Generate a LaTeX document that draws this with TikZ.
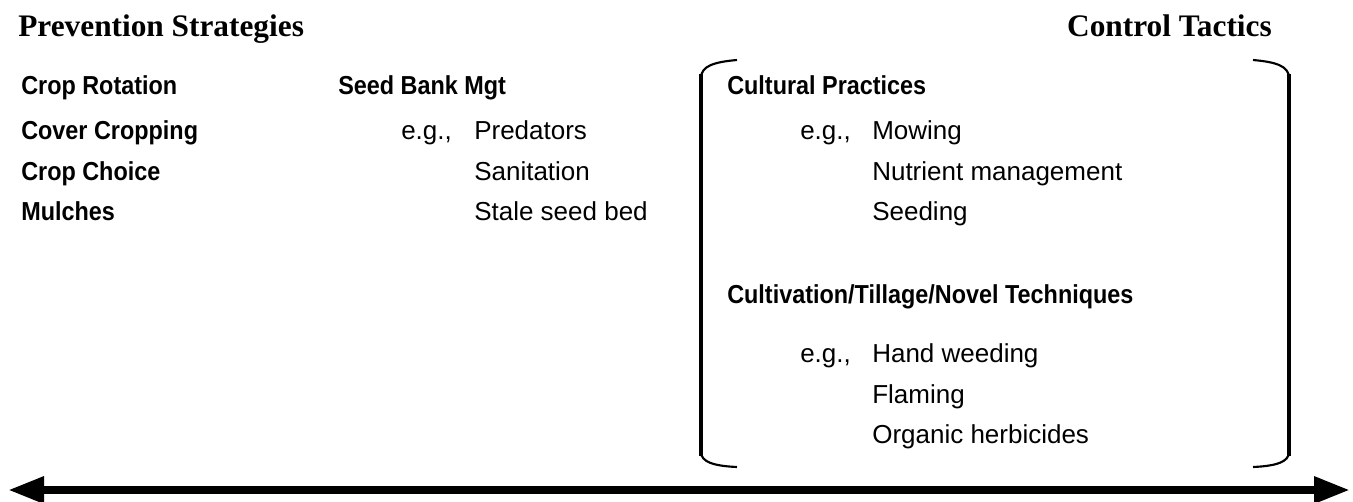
\documentclass[tikz,border=0pt]{standalone}
\usepackage{fontspec}
\setmainfont{Liberation Serif}
\newfontfamily\condb[FakeStretch=0.9]{Liberation Sans}
\newfontfamily\cond{Liberation Sans}
\usetikzlibrary{arrows.meta}
\begin{document}
\begin{tikzpicture}[x=0.75pt,y=-0.75pt,
  head/.style={anchor=base west,inner sep=0pt,font=\fontsize{23.5}{26}\selectfont\bfseries},
  bitem/.style={anchor=base west,inner sep=0pt,font=\condb\fontsize{19.5}{21}\selectfont\bfseries},
  item/.style={anchor=base west,inner sep=0pt,font=\cond\fontsize{19.5}{21}\selectfont},
  brk/.style={line width=3.6pt},
  brkc/.style={line width=1.6pt},
  axis/.style={line width=6pt,{Triangle[length=27pt,width=19pt]}-{Triangle[length=27pt,width=19pt]}}]
\useasboundingbox (0,0) rectangle (1353,501);
% headings
\node[head] (prev) at (18,36) {Prevention Strategies};
\node[head,anchor=base east] (ctrl) at (1272,36) {Control Tactics};
% left column
\node[bitem] (cr) at (21,94) {Crop Rotation};
\node[bitem] (cc) at (21,139) {Cover Cropping};
\node[bitem] (ch) at (21,180) {Crop Choice};
\node[bitem] (mu) at (21,220) {Mulches};
% seed bank
\node[bitem] (sb) at (338,94) {Seed Bank Mgt};
\node[item] (eg1) at (401,139) {e.g.,};
\node[item] (pr) at (474,139) {Predators};
\node[item] (sa) at (474,180) {Sanitation};
\node[item] (st) at (474,220) {Stale seed bed};
% control tactics
\node[bitem] (cp) at (727,94) {Cultural Practices};
\node[item] (eg2) at (800,139) {e.g.,};
\node[item] (mo) at (872,139) {Mowing};
\node[item] (nm) at (872,180) {Nutrient management};
\node[item] (se) at (872,220) {Seeding};
\node[bitem] (cu) at (727,303) {Cultivation/Tillage/Novel Techniques};
\node[item] (eg3) at (800,362) {e.g.,};
\node[item] (hw) at (872,362) {Hand weeding};
\node[item] (fl) at (872,403) {Flaming};
\node[item] (oh) at (872,443) {Organic herbicides};
% bracket
\draw[brk] (701,74) -- (701,456);
\draw[brkc] (701,78) .. controls (701,66) and (714,62) .. (737,60);
\draw[brkc] (701,452) .. controls (701,462) and (714,466) .. (737,467);
\draw[brk] (1289,74) -- (1289,456);
\draw[brkc] (1289,78) .. controls (1289,66) and (1276,62) .. (1253,60);
\draw[brkc] (1289,452) .. controls (1289,462) and (1276,466) .. (1253,467);
% axis arrow
\coordinate (l) at (8,490);
\coordinate (r) at (1350,490);
\draw[axis] (l) -- (r);
\end{tikzpicture}
\end{document}
